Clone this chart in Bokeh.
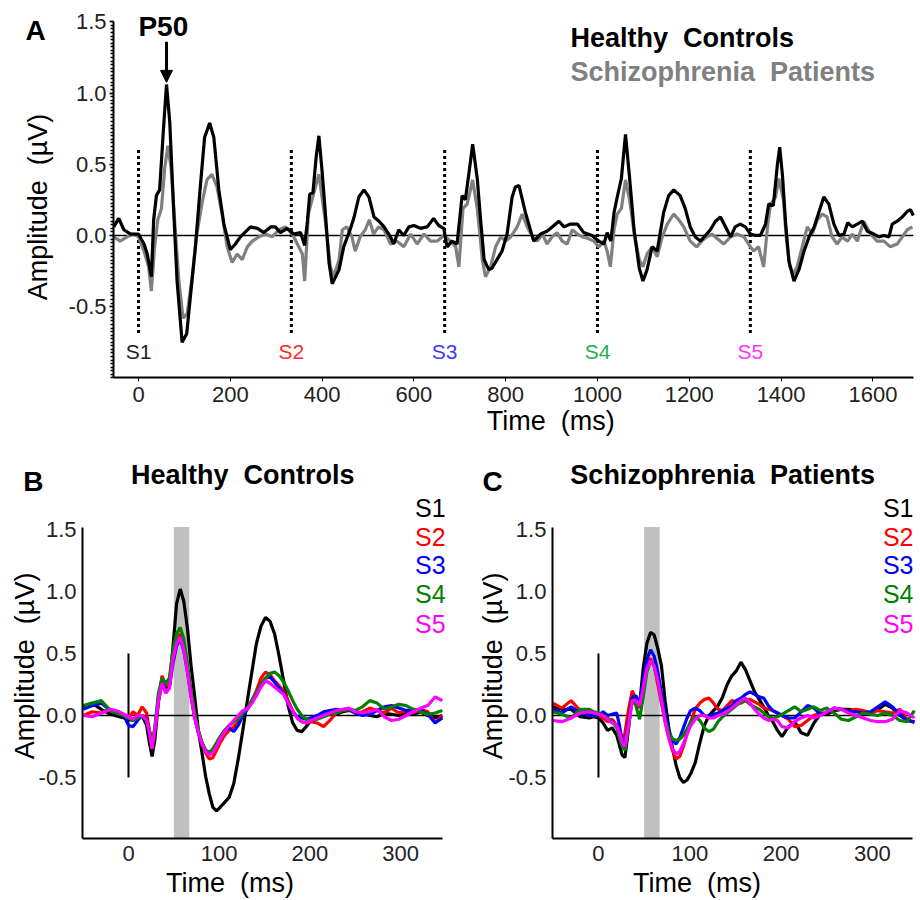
from bokeh.plotting import figure
from bokeh.models import Range1d, FixedTicker, PrintfTickFormatter, Label, Arrow, NormalHead
from bokeh.layouts import column, row
from bokeh.embed import file_html
from bokeh.resources import INLINE
import numpy as np

# ---------------- DATA ----------------
# Panel A: grand-average ERP over the five-click train (time in ms, amplitude in uV)
STIM_TIMES = [0, 333, 667, 1000, 1333]
STIM_LABELS = ["S1", "S2", "S3", "S4", "S5"]

HC_T = [-54, -43, -32, -17, 0, 12, 19, 28, 33, 39, 46, 54, 61, 68, 77, 84, 95, 105, 113, 124,
        134, 144, 155, 164, 175, 186, 200, 211, 222, 244, 259, 273, 288, 298, 309, 324, 338, 353, 362, 368,
        373, 380, 387, 393, 400, 407, 415, 422, 437, 447, 462, 469, 480, 491, 502, 513, 524, 535, 549, 556,
        567, 578, 589, 600, 614, 629, 643, 654, 665, 672, 683, 694, 705, 712, 720, 728, 738, 745, 753, 763,
        770, 781, 792, 803, 814, 821, 829, 843, 861, 876, 890, 905, 916, 927, 941, 956, 970, 988, 1003, 1014,
        1021, 1029, 1036, 1043, 1052, 1061, 1070, 1080, 1091, 1099, 1108, 1119, 1130, 1144, 1155, 1166, 1180, 1191, 1202, 1213,
        1224, 1235, 1246, 1257, 1268, 1279, 1290, 1300, 1311, 1322, 1333, 1344, 1355, 1366, 1373, 1383, 1392, 1397, 1403, 1410,
        1417, 1428, 1439, 1450, 1461, 1472, 1483, 1493, 1504, 1515, 1526, 1537, 1545, 1555, 1566, 1577, 1588, 1602, 1613, 1624,
        1635, 1642, 1653, 1664, 1675, 1682, 1688]
HC_V = [0.06, 0.12, 0.04, 0.01, 0.01, -0.06, -0.13, -0.29, 0.11, 0.28, 0.32, 0.73, 1.06, 0.80, 0.15, -0.32, -0.75, -0.69, -0.43, -0.08,
        0.32, 0.69, 0.79, 0.69, 0.32, 0.08, -0.10, -0.06, -0.01, 0.06, 0.05, 0.02, 0.06, 0.06, 0.02, 0.05, 0.01, 0.02, -0.07, 0.10,
        0.29, 0.30, 0.55, 0.70, 0.45, 0.16, -0.19, -0.34, -0.24, -0.08, 0.05, 0.12, 0.27, 0.32, 0.27, 0.13, 0.10, 0.06, -0.01, -0.06,
        0.04, 0.00, 0.06, 0.07, 0.05, 0.06, 0.12, 0.07, 0.05, -0.08, -0.04, -0.06, 0.28, 0.25, 0.44, 0.64, 0.40, 0.12, -0.17, -0.24,
        -0.23, -0.17, -0.11, 0.01, 0.27, 0.34, 0.35, 0.16, -0.04, 0.01, 0.03, 0.07, 0.10, 0.06, 0.08, 0.08, 0.02, 0.00, -0.04, -0.06,
        0.02, -0.04, 0.16, 0.27, 0.40, 0.71, 0.40, 0.03, -0.23, -0.32, -0.24, -0.08, -0.11, 0.16, 0.28, 0.32, 0.28, 0.19, 0.06, -0.01,
        -0.04, 0.00, 0.04, 0.10, 0.13, 0.06, -0.01, 0.06, 0.08, 0.06, 0.01, 0.00, 0.00, 0.08, 0.22, 0.21, 0.50, 0.62, 0.42, 0.08,
        -0.18, -0.32, -0.24, -0.11, -0.01, 0.06, 0.17, 0.27, 0.22, 0.08, 0.00, 0.01, 0.09, 0.06, 0.08, 0.10, 0.03, 0.01, -0.01, 0.00,
        -0.01, 0.08, 0.10, 0.13, 0.17, 0.18, 0.14]

SZ_T = [-54, -40, -25, -11, 0, 12, 22, 28, 35, 42, 50, 57, 64, 71, 80, 88, 97, 106, 117, 126,
        138, 149, 160, 171, 182, 193, 204, 215, 226, 237, 248, 262, 277, 291, 306, 320, 335, 346, 357, 362,
        370, 382, 393, 407, 418, 425, 437, 444, 454, 465, 472, 483, 494, 503, 512, 523, 535, 549, 563, 578,
        593, 607, 622, 636, 651, 665, 680, 691, 698, 707, 716, 728, 738, 749, 756, 767, 778, 789, 800, 811,
        825, 836, 847, 858, 869, 880, 890, 901, 912, 923, 934, 945, 956, 967, 978, 992, 1003, 1014, 1021, 1028,
        1036, 1043, 1052, 1061, 1070, 1080, 1091, 1099, 1108, 1119, 1130, 1141, 1152, 1166, 1177, 1188, 1202, 1216, 1227, 1238,
        1249, 1260, 1275, 1290, 1304, 1319, 1329, 1340, 1351, 1362, 1371, 1377, 1388, 1395, 1405, 1412, 1419, 1427, 1435, 1446,
        1457, 1468, 1479, 1490, 1500, 1511, 1522, 1533, 1545, 1555, 1566, 1580, 1595, 1609, 1624, 1638, 1653, 1664, 1675, 1686]
SZ_V = [-0.01, -0.04, -0.01, 0.01, -0.01, -0.11, -0.22, -0.39, -0.08, 0.11, 0.19, 0.47, 0.63, 0.47, 0.04, -0.32, -0.58, -0.55, -0.29, -0.01,
        0.22, 0.39, 0.43, 0.34, 0.15, -0.08, -0.19, -0.13, -0.17, -0.08, -0.04, -0.01, 0.01, -0.01, 0.04, 0.06, 0.01, -0.06, -0.13, -0.32,
        0.15, 0.30, 0.43, 0.10, -0.22, -0.29, -0.17, 0.04, 0.06, -0.01, -0.11, -0.01, 0.04, 0.11, 0.01, 0.06, 0.04, -0.06, -0.04, -0.08,
        0.01, -0.06, 0.01, -0.04, -0.04, 0.00, -0.04, -0.08, -0.22, 0.19, 0.22, 0.39, 0.19, -0.17, -0.29, -0.22, -0.08, -0.01, -0.04, -0.01,
        0.06, 0.15, 0.06, -0.01, -0.04, 0.01, -0.06, -0.01, 0.02, -0.04, -0.06, 0.04, 0.01, -0.01, -0.02, -0.04, -0.08, -0.04, -0.11, -0.22,
        0.04, 0.15, 0.19, 0.39, 0.25, 0.01, -0.17, -0.22, -0.13, -0.08, -0.15, -0.01, 0.08, 0.15, 0.11, 0.06, -0.04, -0.08, -0.04, -0.01,
        0.01, -0.02, -0.06, -0.01, 0.01, -0.01, -0.06, -0.11, -0.08, -0.22, 0.08, 0.22, 0.27, 0.40, 0.25, -0.04, -0.22, -0.27, -0.22, -0.08,
        0.06, 0.01, 0.11, 0.15, 0.13, -0.01, -0.06, -0.01, -0.04, 0.01, -0.04, 0.10, 0.01, -0.04, -0.04, -0.08, -0.06, -0.01, 0.04, 0.06]

# Panels B & C: responses to each stimulus S1..S5, common time axis (ms)
T_SUB = [-50, -40, -30, -20, -10, -5, 0, 5, 10, 15, 20, 23, 26, 29, 33, 37, 41, 45, 49, 53,
         57, 61, 65, 69, 73, 77, 81, 85, 89, 93, 97, 101, 106, 111, 116, 121, 126, 131, 136, 141,
         146, 151, 156, 161, 166, 171, 176, 181, 186, 191, 196, 201, 208, 215, 222, 229, 236, 243, 250, 258,
         266, 274, 282, 290, 298, 306, 314, 322, 330, 338, 346]

HC_S1 = [0.07, 0.10, 0.05, 0.01, -0.01, -0.02, -0.03, -0.04, -0.01, 0.00, -0.08, -0.22, -0.33, -0.20, 0.11, 0.27, 0.22, 0.24, 0.55, 0.90,
         1.02, 0.92, 0.70, 0.40, 0.15, -0.12, -0.30, -0.49, -0.63, -0.74, -0.77, -0.74, -0.70, -0.66, -0.55, -0.35, -0.12, 0.12, 0.35, 0.58,
         0.72, 0.79, 0.76, 0.66, 0.48, 0.28, 0.08, -0.06, -0.12, -0.13, -0.09, -0.04, -0.02, 0.00, 0.02, 0.01, 0.03, 0.04, 0.03, 0.02,
         0.00, -0.01, 0.02, 0.01, 0.00, 0.02, 0.01, 0.03, 0.00, -0.02, 0.00]
HC_S2 = [0.00, 0.03, 0.02, 0.05, 0.02, 0.00, -0.02, 0.03, 0.00, 0.07, 0.02, -0.12, -0.25, -0.12, 0.12, 0.32, 0.24, 0.25, 0.45, 0.60,
         0.66, 0.55, 0.38, 0.18, 0.00, -0.12, -0.22, -0.30, -0.35, -0.34, -0.28, -0.22, -0.16, -0.12, -0.09, -0.05, 0.00, 0.06, 0.12, 0.20,
         0.30, 0.35, 0.33, 0.28, 0.24, 0.20, 0.12, 0.04, -0.02, -0.05, -0.06, -0.05, -0.06, -0.09, -0.04, 0.02, 0.04, 0.05, 0.02, 0.03,
         0.06, 0.04, 0.02, 0.06, 0.02, 0.04, 0.02, 0.05, 0.03, -0.06, 0.00]
HC_S3 = [0.05, 0.08, 0.10, 0.04, 0.01, 0.00, -0.08, -0.09, -0.04, 0.00, -0.03, -0.12, -0.22, -0.12, 0.15, 0.28, 0.20, 0.22, 0.42, 0.56,
         0.62, 0.52, 0.35, 0.15, -0.02, -0.14, -0.22, -0.28, -0.30, -0.28, -0.23, -0.18, -0.12, -0.10, -0.13, -0.08, 0.00, 0.05, 0.12, 0.18,
         0.25, 0.30, 0.31, 0.27, 0.22, 0.18, 0.10, 0.03, -0.01, -0.02, -0.03, -0.02, 0.00, 0.03, 0.04, 0.05, 0.04, 0.05, 0.02, 0.00,
         0.01, 0.04, 0.07, 0.08, 0.06, 0.04, 0.05, 0.04, 0.01, -0.06, -0.02]
HC_S4 = [0.08, 0.10, 0.12, 0.04, 0.01, 0.00, -0.02, -0.04, -0.02, 0.00, -0.04, -0.12, -0.22, -0.10, 0.18, 0.30, 0.26, 0.30, 0.52, 0.66,
         0.71, 0.62, 0.42, 0.20, 0.02, -0.12, -0.22, -0.28, -0.30, -0.27, -0.22, -0.17, -0.12, -0.08, -0.05, -0.03, 0.02, 0.06, 0.12, 0.18,
         0.25, 0.30, 0.34, 0.35, 0.32, 0.27, 0.20, 0.12, 0.05, 0.00, -0.03, -0.04, -0.03, -0.01, 0.01, 0.02, 0.04, 0.05, 0.04, 0.07,
         0.12, 0.10, 0.05, 0.07, 0.09, 0.08, 0.05, 0.03, 0.01, 0.02, 0.04]
HC_S5 = [0.00, -0.01, 0.02, 0.05, 0.03, 0.01, -0.01, -0.03, 0.00, 0.00, -0.04, -0.14, -0.27, -0.12, 0.12, 0.26, 0.18, 0.22, 0.45, 0.58,
         0.63, 0.53, 0.35, 0.15, -0.02, -0.14, -0.23, -0.29, -0.32, -0.30, -0.25, -0.19, -0.13, -0.08, -0.04, 0.00, 0.04, 0.05, 0.10, 0.16,
         0.23, 0.28, 0.26, 0.23, 0.20, 0.17, 0.10, 0.04, -0.02, -0.05, -0.06, -0.04, -0.02, 0.00, 0.02, 0.04, 0.05, 0.06, 0.03, 0.02,
         0.03, 0.05, -0.01, -0.04, -0.03, 0.00, 0.03, 0.06, 0.08, 0.15, 0.12]

SZ_S1 = [0.07, 0.05, 0.05, -0.01, -0.02, -0.01, -0.02, -0.06, -0.12, -0.10, -0.16, -0.24, -0.32, -0.34, -0.10, 0.17, 0.11, 0.08, 0.38, 0.58,
         0.67, 0.65, 0.54, 0.40, 0.12, -0.10, -0.26, -0.40, -0.50, -0.54, -0.52, -0.47, -0.38, -0.22, -0.08, 0.00, 0.04, 0.08, 0.15, 0.25,
         0.32, 0.36, 0.43, 0.37, 0.28, 0.19, 0.13, 0.07, 0.00, -0.05, -0.12, -0.17, -0.09, -0.05, -0.14, -0.16, -0.06, 0.01, 0.01, 0.04,
         0.05, 0.05, 0.04, 0.03, 0.01, 0.05, 0.09, 0.06, 0.00, -0.04, -0.05]
SZ_S2 = [0.10, 0.06, 0.12, 0.04, 0.02, 0.02, 0.00, -0.02, -0.05, -0.03, -0.08, -0.16, -0.22, -0.14, 0.05, 0.20, 0.13, 0.06, 0.22, 0.40,
         0.46, 0.40, 0.25, 0.10, -0.05, -0.18, -0.28, -0.35, -0.33, -0.25, -0.15, -0.05, 0.05, 0.10, 0.13, 0.14, 0.10, 0.05, 0.04, 0.08,
         0.12, 0.11, 0.10, 0.12, 0.13, 0.11, 0.09, 0.06, 0.05, 0.04, 0.02, 0.00, -0.03, -0.09, -0.08, -0.04, 0.00, 0.02, 0.02, 0.06,
         0.05, 0.03, 0.05, 0.04, 0.02, 0.04, 0.03, 0.02, 0.05, -0.03, -0.06]
SZ_S3 = [0.05, 0.02, 0.07, 0.02, 0.00, 0.00, 0.00, 0.03, 0.00, 0.01, 0.02, -0.08, -0.20, -0.24, -0.05, 0.15, 0.16, 0.10, 0.28, 0.45,
         0.53, 0.48, 0.35, 0.18, 0.02, -0.12, -0.20, -0.23, -0.18, -0.10, -0.02, 0.04, 0.06, 0.04, 0.00, -0.01, 0.01, 0.02, 0.04, 0.06,
         0.08, 0.12, 0.14, 0.17, 0.19, 0.17, 0.15, 0.14, 0.08, 0.04, 0.02, 0.00, -0.02, -0.02, 0.03, 0.08, 0.06, 0.01, 0.02, 0.06,
         0.05, 0.03, 0.03, 0.02, 0.03, 0.07, 0.11, 0.07, 0.01, -0.04, -0.05]
SZ_S4 = [0.03, 0.01, -0.02, 0.05, 0.05, 0.03, 0.02, 0.00, -0.02, -0.05, -0.10, -0.18, -0.25, -0.28, -0.08, 0.13, 0.08, -0.03, 0.15, 0.35,
         0.44, 0.40, 0.28, 0.12, -0.03, -0.14, -0.19, -0.20, -0.19, -0.16, -0.11, -0.05, -0.01, -0.04, -0.10, -0.13, -0.11, -0.05, -0.01, 0.02,
         0.05, 0.08, 0.11, 0.12, 0.09, 0.07, 0.05, 0.02, -0.01, -0.02, -0.01, 0.01, 0.04, 0.07, 0.03, 0.05, 0.07, 0.04, 0.06, 0.02,
         -0.03, -0.04, -0.01, 0.02, 0.01, 0.00, 0.02, 0.00, -0.04, -0.05, 0.04]
SZ_S5 = [-0.04, -0.05, -0.02, 0.02, 0.03, 0.02, 0.01, 0.00, -0.03, -0.06, -0.08, -0.14, -0.22, -0.25, -0.08, 0.12, 0.12, 0.08, 0.22, 0.38,
         0.44, 0.40, 0.28, 0.12, -0.05, -0.18, -0.27, -0.31, -0.29, -0.23, -0.15, -0.08, -0.03, 0.00, 0.00, -0.02, -0.02, 0.00, 0.01, 0.03,
         0.06, 0.09, 0.12, 0.14, 0.10, 0.05, 0.01, -0.02, -0.04, -0.03, -0.04, -0.09, -0.10, -0.05, -0.02, 0.00, -0.02, 0.00, 0.03, 0.06,
         0.05, 0.02, 0.00, -0.02, -0.04, -0.05, -0.05, -0.03, 0.04, 0.02, -0.02]

P50_WINDOW = [50, 67]
Y_TICKS = [-0.5, 0.0, 0.5, 1.0, 1.5]
X_TICKS_A = [0, 200, 400, 600, 800, 1000, 1200, 1400, 1600]
X_TICKS_SUB = [0, 100, 200, 300]

# ---------------- STYLE ----------------
FONT = "Liberation Sans"
STIM_COLORS_A = ["#222222", "#ff2a2a", "#3a3aff", "#22b050", "#ff33ff"]
STIM_COLORS_SUB = ["black", "#ff0000", "#0000ff", "#008000", "#ff00ff"]
GRAY = "#808080"
SP = " \u00a0"  # wide word gap as in the original figure


def base_fig(width, height, view_x, view_y, axis_x, axis_y):
    """view_* = full canvas extent in data units; axis_* = (start, end) of the drawn axes."""
    p = figure(width=width, height=height, x_range=Range1d(*view_x), y_range=Range1d(*view_y),
               output_backend="svg", toolbar_location=None,
               min_border_left=0, min_border_right=0, min_border_top=0, min_border_bottom=0)
    p.grid.visible = False
    p.outline_line_color = None
    p.background_fill_color = "white"
    p.border_fill_color = "white"
    xa, ya = p.xaxis[0], p.yaxis[0]
    xa.fixed_location = axis_y[0]
    xa.bounds = axis_x
    ya.fixed_location = axis_x[0]
    ya.bounds = axis_y
    for ax in (xa, ya):
        ax.axis_line_width = 2
        ax.axis_line_color = "black"
        ax.major_label_text_font = FONT
        ax.major_label_text_color = "#222222"
        ax.major_tick_in = 0
        ax.minor_tick_in = 0
        ax.axis_label = None
    ya.formatter = PrintfTickFormatter(format="%.1f")
    return p


def add_text(p, x, y, text, size, bold=False, color="black", align="center", angle=0.0):
    p.add_layout(Label(x=x, y=y, text=text, text_font=FONT, text_font_size=f"{size}px",
                       text_font_style="bold" if bold else "normal", text_color=color,
                       text_align=align, text_baseline="middle", angle=angle))


# ---------------- PANEL A ----------------
A_AX_X = (-54.5, 1688)
A_AX_Y = (-1.0, 1.5)
pA = base_fig(920, 440, (-300.7, 1703.7), (-1.44, 1.65), A_AX_X, A_AX_Y)
pA.xaxis[0].ticker = FixedTicker(ticks=X_TICKS_A, minor_ticks=[])
pA.yaxis[0].ticker = FixedTicker(ticks=Y_TICKS, minor_ticks=list(np.arange(-1.0, 1.5001, 0.025)))
pA.xaxis[0].major_label_text_font_size = "22px"
pA.yaxis[0].major_label_text_font_size = "22px"
pA.xaxis[0].major_tick_out = 4
pA.xaxis[0].minor_tick_out = 0
pA.yaxis[0].major_tick_out = 4
pA.yaxis[0].minor_tick_out = 3
pA.yaxis[0].minor_tick_line_width = 1.5
pA.yaxis[0].major_tick_line_width = 1.5
pA.xaxis[0].major_label_standoff = 5
pA.yaxis[0].major_label_standoff = 3

pA.segment(x0=[A_AX_X[0]], x1=[A_AX_X[1]], y0=[0], y1=[0], line_color="black", line_width=1.5)
pA.segment(x0=STIM_TIMES, x1=STIM_TIMES, y0=[0.6] * 5, y1=[-0.7] * 5,
           line_color="black", line_width=3, line_dash="3 3")
pA.line(SZ_T, SZ_V, line_color=GRAY, line_width=3.2)
pA.line(HC_T, HC_V, line_color="black", line_width=3.2)

for t, lab, c in zip(STIM_TIMES, STIM_LABELS, STIM_COLORS_A):
    add_text(pA, t, -0.815, lab, 21, color=c)

peak_i = int(np.argmax(HC_V))
peak_t, peak_v = HC_T[peak_i], HC_V[peak_i]
pA.add_layout(Arrow(end=NormalHead(size=12, fill_color="black", line_color="black"),
                    x_start=peak_t, y_start=peak_v + 0.30, x_end=peak_t, y_end=peak_v + 0.015,
                    line_color="black", line_width=3))
add_text(pA, peak_t - 7, 1.47, "P50", 28, bold=True)
add_text(pA, -224, 1.44, "A", 28, bold=True)
add_text(pA, 941, 1.39, "Healthy" + SP + "Controls", 27, bold=True, align="left")
add_text(pA, 941, 1.145, "Schizophrenia" + SP + "Patients", 27, bold=True, color=GRAY, align="left")
add_text(pA, 898, -1.30, "Time" + SP + "(ms)", 27)
add_text(pA, -218, 0.2, "Amplitude" + SP + "(µV)", 27, angle=np.pi / 2)


# ---------------- PANELS B / C ----------------
def sub_panel(view_x, ax_x, series, letter, title, letter_x, title_x, legend_x, time_x, amp_x):
    ax_y = (-0.99, 1.52)
    p = base_fig(460, 460, view_x, (-1.492, 2.218), ax_x, ax_y)
    p.xaxis[0].ticker = FixedTicker(ticks=X_TICKS_SUB, minor_ticks=[])
    p.yaxis[0].ticker = FixedTicker(ticks=Y_TICKS, minor_ticks=[])
    for ax in (p.xaxis[0], p.yaxis[0]):
        ax.major_label_text_font_size = "22px"
        ax.major_tick_out = 0
        ax.minor_tick_out = 0
    p.xaxis[0].major_label_standoff = 8
    p.yaxis[0].major_label_standoff = 6
    p.quad(left=[P50_WINDOW[0]], right=[P50_WINDOW[1]], bottom=[ax_y[0]], top=[ax_y[1]],
           fill_color="#c0c0c0", line_color=None)
    p.segment(x0=[ax_x[0]], x1=[ax_x[1]], y0=[0], y1=[0], line_color="black", line_width=1.5)
    p.segment(x0=[STIM_TIMES[0]], x1=[STIM_TIMES[0]], y0=[-0.5], y1=[0.5], line_color="black", line_width=2)
    for vals, c in zip(series, STIM_COLORS_SUB):
        p.line(T_SUB, vals, line_color=c, line_width=3.2)
    add_text(p, letter_x, 1.89, letter, 28, bold=True)
    add_text(p, title_x, 1.94, title, 27, bold=True)
    for lab, c, yy in zip(STIM_LABELS, STIM_COLORS_SUB, [1.67, 1.44, 1.21, 0.98, 0.74]):
        add_text(p, legend_x, yy, lab, 25, color=c, align="right")
    add_text(p, time_x, -1.35, "Time" + SP + "(ms)", 27)
    add_text(p, amp_x, 0.4, "Amplitude" + SP + "(µV)", 27, angle=np.pi / 2)
    return p


pB = sub_panel((-141.1, 366.0), (-50.7, 346), [HC_S1, HC_S2, HC_S3, HC_S4, HC_S5], "B",
               "Healthy" + SP + "Controls", -105, 126, 349.5, 112, -114)
pC = sub_panel((-151.1, 352.7), (-50.4, 344), [SZ_S1, SZ_S2, SZ_S3, SZ_S4, SZ_S5], "C",
               "Schizophrenia" + SP + "Patients", -116, 136, 345, 108, -116)

layout = column(pA, row(pB, pC))
open("out.html", "w").write(file_html(layout, INLINE))
